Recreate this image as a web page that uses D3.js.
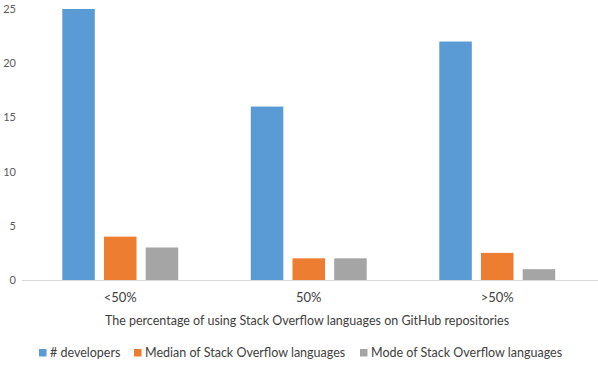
<!DOCTYPE html>
<html>
<head>
<meta charset="utf-8">
<script src="https://cdn.jsdelivr.net/npm/d3@7/dist/d3.min.js"></script>
<style>
  body { margin: 0; background: #fff; }
  text { font-family: Lato, "Open Sans", sans-serif; fill: #404040; }
</style>
</head>
<body>
<div id="chart"></div>
<script>
var categories = ["<50%", "50%", ">50%"];
var seriesNames = ["# developers", "Median of Stack Overflow languages", "Mode of Stack Overflow languages"];
var developers = [25, 16, 22];
var medianLangs = [4, 2, 2.5];
var modeLangs = [3, 2, 1];
var yTicks = [0, 5, 10, 15, 20, 25];
var colors = ["#5b9bd5", "#ed7d31", "#a5a5a5"];

var width = 598, height = 366;
var svg = d3.select("#chart").append("svg")
  .attr("width", width)
  .attr("height", height);

var seriesValues = [developers, medianLangs, modeLangs];
var rows = categories.map(function (c, i) {
  return {
    cat: c,
    vals: seriesNames.map(function (s, j) { return { name: s, value: seriesValues[j][i], idx: j }; })
  };
});

var x0 = d3.scaleBand()
  .domain(categories)
  .range([26, 591.5])
  .paddingInner(0.385)
  .paddingOuter(0.1925);
var x1 = d3.scaleBand()
  .domain(seriesNames)
  .range([0, x0.bandwidth()])
  .paddingInner(0.22);
var y = d3.scaleLinear()
  .domain([0, 25])
  .range([280, 9]);

// y axis labels (no line)
var yAxis = svg.append("g")
  .attr("transform", "translate(16,0)")
  .call(d3.axisLeft(y).tickValues(yTicks).tickSize(0).tickPadding(0));
yAxis.select(".domain").remove();
yAxis.selectAll("text").style("font-size", "11px").style("fill", "#595959");

// bars
svg.selectAll(".grp")
  .data(rows)
  .enter().append("g")
  .attr("class", "grp")
  .attr("transform", function (d) { return "translate(" + x0(d.cat) + ",0)"; })
  .selectAll("rect")
  .data(function (d) { return d.vals; })
  .enter().append("rect")
  .attr("x", function (d) { return x1(d.name); })
  .attr("width", x1.bandwidth())
  .attr("y", function (d) { return y(d.value); })
  .attr("height", function (d) { return y(0) - y(d.value); })
  .attr("fill", function (d) { return colors[d.idx]; });

// x axis
var xAxis = svg.append("g")
  .attr("transform", "translate(0,280)")
  .call(d3.axisBottom(x0).tickSize(0).tickPadding(13));
xAxis.select(".domain").attr("d", "M22,0.5H598").attr("stroke", "#d9d9d9");
xAxis.selectAll("text").style("font-size", "13px");

svg.append("text")
  .attr("x", 307)
  .attr("y", 325)
  .attr("text-anchor", "middle")
  .style("font-size", "12.5px")
  .text("The percentage of using Stack Overflow  languages on GitHub repositories");

// legend
var legendX = [39, 134, 360];
var legend = svg.selectAll(".leg")
  .data(seriesNames)
  .enter().append("g")
  .attr("class", "leg")
  .attr("transform", function (d, i) { return "translate(" + legendX[i] + ",352.5)"; });
legend.append("rect")
  .attr("y", -3.5)
  .attr("width", 7.5)
  .attr("height", 7.5)
  .attr("fill", function (d, i) { return colors[i]; });
legend.append("text")
  .attr("x", 11)
  .attr("dy", "0.35em")
  .style("font-size", "12.5px")
  .text(function (d) { return d; });
</script>
</body>
</html>
